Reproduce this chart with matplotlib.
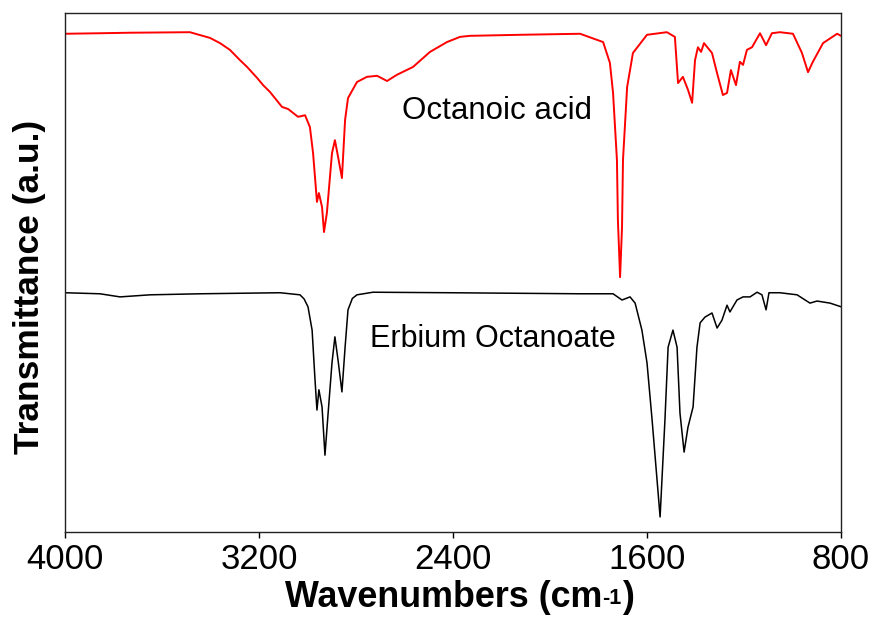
import matplotlib
matplotlib.use("Agg")
import matplotlib.pyplot as plt

plt.rcParams['font.family'] = ['Liberation Sans', 'DejaVu Sans']

# Octanoic acid (red) - wavenumber (cm-1) and transmittance (a.u.)
acid_wn = [4000, 3856, 3732, 3485, 3402, 3361, 3320, 3278, 3249, 3208, 3183, 3155,
           3105, 3080, 3039, 3010, 2990, 2977, 2961, 2953, 2940, 2932, 2920, 2899,
           2887, 2874, 2858, 2845, 2833, 2796, 2755, 2713, 2672, 2631, 2565, 2495,
           2425, 2371, 2330, 2124, 1876, 1781, 1753, 1740, 1724, 1720, 1711, 1703,
           1699, 1682, 1658, 1600, 1518, 1485, 1472, 1452, 1431, 1414, 1402, 1390,
           1377, 1365, 1332, 1311, 1287, 1270, 1254, 1233, 1217, 1204, 1188, 1167,
           1134, 1109, 1085, 1052, 998, 961, 936, 916, 874, 816, 800]
acid_t = [96.0, 96.1, 96.2, 96.3, 95.2, 94.2, 92.9, 90.9, 89.6, 87.5, 86.1, 84.8,
          81.9, 81.5, 80.0, 80.3, 78.0, 73.0, 63.6, 65.3, 62.6, 57.8, 61.5, 73.0,
          75.5, 72.3, 68.2, 79.4, 83.6, 86.7, 87.7, 87.9, 86.9, 88.1, 89.6, 92.5,
          94.4, 95.4, 95.6, 95.8, 96.0, 94.4, 90.4, 84.6, 71.7, 60.1, 49.1, 58.8,
          71.7, 85.7, 92.3, 95.8, 96.3, 95.4, 86.5, 87.7, 85.2, 82.7, 90.9, 93.4,
          92.5, 94.2, 92.3, 88.4, 84.2, 84.6, 89.0, 86.1, 90.6, 90.0, 92.9, 93.4,
          96.1, 93.8, 96.1, 96.3, 96.0, 92.3, 88.6, 90.6, 94.2, 96.0, 95.6]

# Erbium octanoate (black)
erb_wn = [4000, 3856, 3773, 3649, 3443, 3113, 3031, 3014, 2998, 2981, 2969, 2961,
          2953, 2940, 2928, 2915, 2899, 2887, 2874, 2858, 2845, 2833, 2815, 2796,
          2730, 2412, 1876, 1740, 1703, 1670, 1649, 1621, 1600, 1579, 1546, 1526,
          1513, 1493, 1476, 1464, 1447, 1431, 1410, 1394, 1381, 1361, 1332, 1311,
          1291, 1270, 1258, 1229, 1204, 1175, 1146, 1126, 1109, 1097, 1052, 981,
          928, 899, 845, 800]
erb_t = [46.1, 45.9, 45.3, 45.7, 45.9, 46.1, 45.7, 44.9, 43.4, 38.9, 29.3, 23.5,
         27.4, 24.1, 14.8, 22.9, 32.6, 37.6, 33.1, 27.0, 35.6, 42.8, 45.0, 45.7,
         46.2, 46.1, 45.9, 45.9, 44.7, 45.3, 44.1, 38.9, 32.6, 21.6, 2.9, 21.6,
         35.6, 38.9, 35.6, 22.9, 15.4, 20.2, 24.1, 35.6, 40.3, 41.4, 42.2, 39.3,
         40.8, 43.7, 42.4, 44.7, 45.3, 45.3, 46.2, 45.7, 42.8, 46.1, 46.1, 45.7,
         44.1, 44.5, 44.1, 43.4]

xticks = [4000, 3200, 2400, 1600, 800]
labels = ["Octanoic acid", "Erbium Octanoate"]

W, H = 879, 619
fig = plt.figure(figsize=(W / 100, H / 100), dpi=100)
ax = fig.add_axes([65/W, 1-532/H, (841-65)/W, (532-13)/H])

ax.plot(acid_wn, acid_t, color='#ff0000', lw=1.4)
ax.plot(erb_wn, erb_t, color='black', lw=1.1)

ax.set_xlim(4000, 800)
ax.set_ylim(0, 100)
ax.set_xticks(xticks)
ax.set_xticklabels([str(t) for t in xticks])
ax.set_yticks([])
ax.tick_params(axis='x', direction='out', length=4, width=1, labelsize=25, pad=4)
for s in ax.spines.values():
    s.set_linewidth(1.0)
    s.set_color('#222222')

ax.text(2610, 81.1, labels[0], fontsize=22.5, ha='left', va='center')
ax.text(2742, 37.2, labels[1], fontsize=22, ha='left', va='center')

# y label
fig.text(30/W, 1-287/H, 'Transmittance (a.u.)', fontsize=25.5, fontweight='bold',
         rotation=90, ha='center', va='center')

# x label built from pieces: small, low superscript like the reference
renderer = fig.canvas.get_renderer()
parts = [('Wavenumbers (cm', 25.8, 0), ('-1', 15.5, 3), (')', 25.8, 0)]
base_y = 1 - 607/H
objs = []
widths = []
for txt, fs, dy in parts:
    t = fig.text(0, base_y + dy / H, txt, fontsize=fs, fontweight='bold',
                 ha='left', va='baseline')
    objs.append(t)
    widths.append(t.get_window_extent(renderer).width)
total = sum(widths)
x0 = 459.5 - total / 2
for t, w in zip(objs, widths):
    t.set_x(x0 / W)
    x0 += w

fig.savefig('out.png', dpi=100)
